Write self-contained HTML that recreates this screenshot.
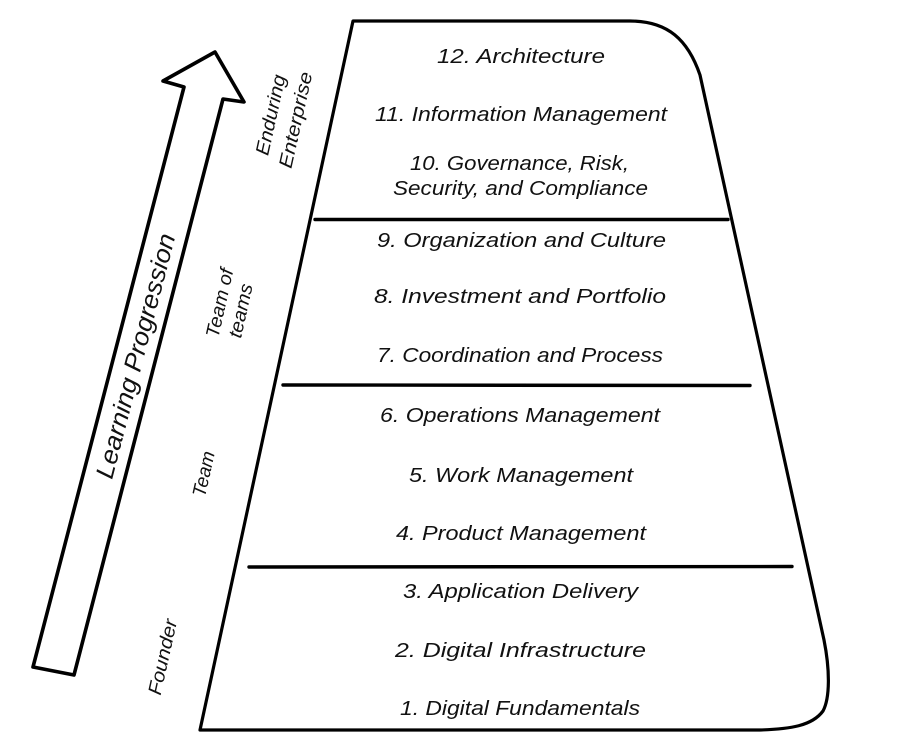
<!DOCTYPE html>
<html>
<head>
<meta charset="utf-8">
<style>
  html, body { margin:0; padding:0; background:#fff; }
  svg { display:block; }
  text { font-family: "Liberation Sans", "DejaVu Sans", sans-serif; font-style: italic; fill:#111; }
</style>
</head>
<body>
<svg width="919" height="753" viewBox="0 0 919 753" xmlns="http://www.w3.org/2000/svg">
  <rect width="919" height="753" fill="#fff"/>

  <!-- Pyramid outline -->
  <path d="M353,21 L630,21 C668,21 688,40 700,75 L824,640 C830,670 830,698 823,711 C812,726 790,729 760,730 L200,730 Z"
        fill="none" stroke="#000" stroke-width="3.2" stroke-linejoin="round"/>

  <!-- Dividers -->
  <path d="M315,219.5 L728,219.5" stroke="#000" stroke-width="3.4" stroke-linecap="round"/>
  <path d="M283,385 L750,385.5" stroke="#000" stroke-width="3.4" stroke-linecap="round"/>
  <path d="M249,567 L792,566.5" stroke="#000" stroke-width="3.4" stroke-linecap="round"/>

  <!-- Arrow -->
  <path d="M215,52 L244,102 L223,99 L74,675 L33,667 L184,87 L163,81 Z"
        fill="#fff" stroke="#000" stroke-width="3.6" stroke-linejoin="round"/>

  <!-- Arrow label -->
  <g transform="translate(136,356) rotate(-75.4)">
    <text x="0" y="8" font-size="25" text-anchor="middle" textLength="252" lengthAdjust="spacingAndGlyphs">Learning Progression</text>
  </g>

  <!-- Side labels -->
  <g transform="translate(271,115) rotate(-77.5)">
    <text x="0" y="6" font-size="19" text-anchor="middle" textLength="82" lengthAdjust="spacingAndGlyphs">Enduring</text>
  </g>
  <g transform="translate(296,120) rotate(-77.5)">
    <text x="0" y="6" font-size="19" text-anchor="middle" textLength="98" lengthAdjust="spacingAndGlyphs">Enterprise</text>
  </g>
  <g transform="translate(220,303) rotate(-77.5)">
    <text x="0" y="6" font-size="19" text-anchor="middle" textLength="70" lengthAdjust="spacingAndGlyphs">Team of</text>
  </g>
  <g transform="translate(242,311) rotate(-77.5)">
    <text x="0" y="5" font-size="19" text-anchor="middle" textLength="55" lengthAdjust="spacingAndGlyphs">teams</text>
  </g>
  <g transform="translate(204,474) rotate(-77.5)">
    <text x="0" y="6" font-size="19" text-anchor="middle" textLength="46" lengthAdjust="spacingAndGlyphs">Team</text>
  </g>
  <g transform="translate(163,657) rotate(-77.5)">
    <text x="0" y="6" font-size="19" text-anchor="middle" textLength="77" lengthAdjust="spacingAndGlyphs">Founder</text>
  </g>

  <!-- Pyramid items -->
  <g font-size="20" text-anchor="middle">
    <text x="521" y="63" textLength="168" lengthAdjust="spacingAndGlyphs">12. Architecture</text>
    <text x="521" y="121" textLength="292" lengthAdjust="spacingAndGlyphs">11. Information Management</text>
    <text x="519.5" y="170" textLength="219" lengthAdjust="spacingAndGlyphs">10. Governance, Risk,</text>
    <text x="520.5" y="195" textLength="255" lengthAdjust="spacingAndGlyphs">Security, and Compliance</text>
    <text x="521.5" y="247" textLength="289" lengthAdjust="spacingAndGlyphs">9. Organization and Culture</text>
    <text x="520" y="303" textLength="292" lengthAdjust="spacingAndGlyphs">8. Investment and Portfolio</text>
    <text x="520" y="362" textLength="286" lengthAdjust="spacingAndGlyphs">7. Coordination and Process</text>
    <text x="520" y="422" textLength="280" lengthAdjust="spacingAndGlyphs">6. Operations Management</text>
    <text x="521" y="482" textLength="224" lengthAdjust="spacingAndGlyphs">5. Work Management</text>
    <text x="521" y="540" textLength="250" lengthAdjust="spacingAndGlyphs">4. Product Management</text>
    <text x="520.5" y="598" textLength="235" lengthAdjust="spacingAndGlyphs">3. Application Delivery</text>
    <text x="520.5" y="657" textLength="251" lengthAdjust="spacingAndGlyphs">2. Digital Infrastructure</text>
    <text x="520" y="715" textLength="240" lengthAdjust="spacingAndGlyphs">1. Digital Fundamentals</text>
  </g>
</svg>
</body>
</html>
